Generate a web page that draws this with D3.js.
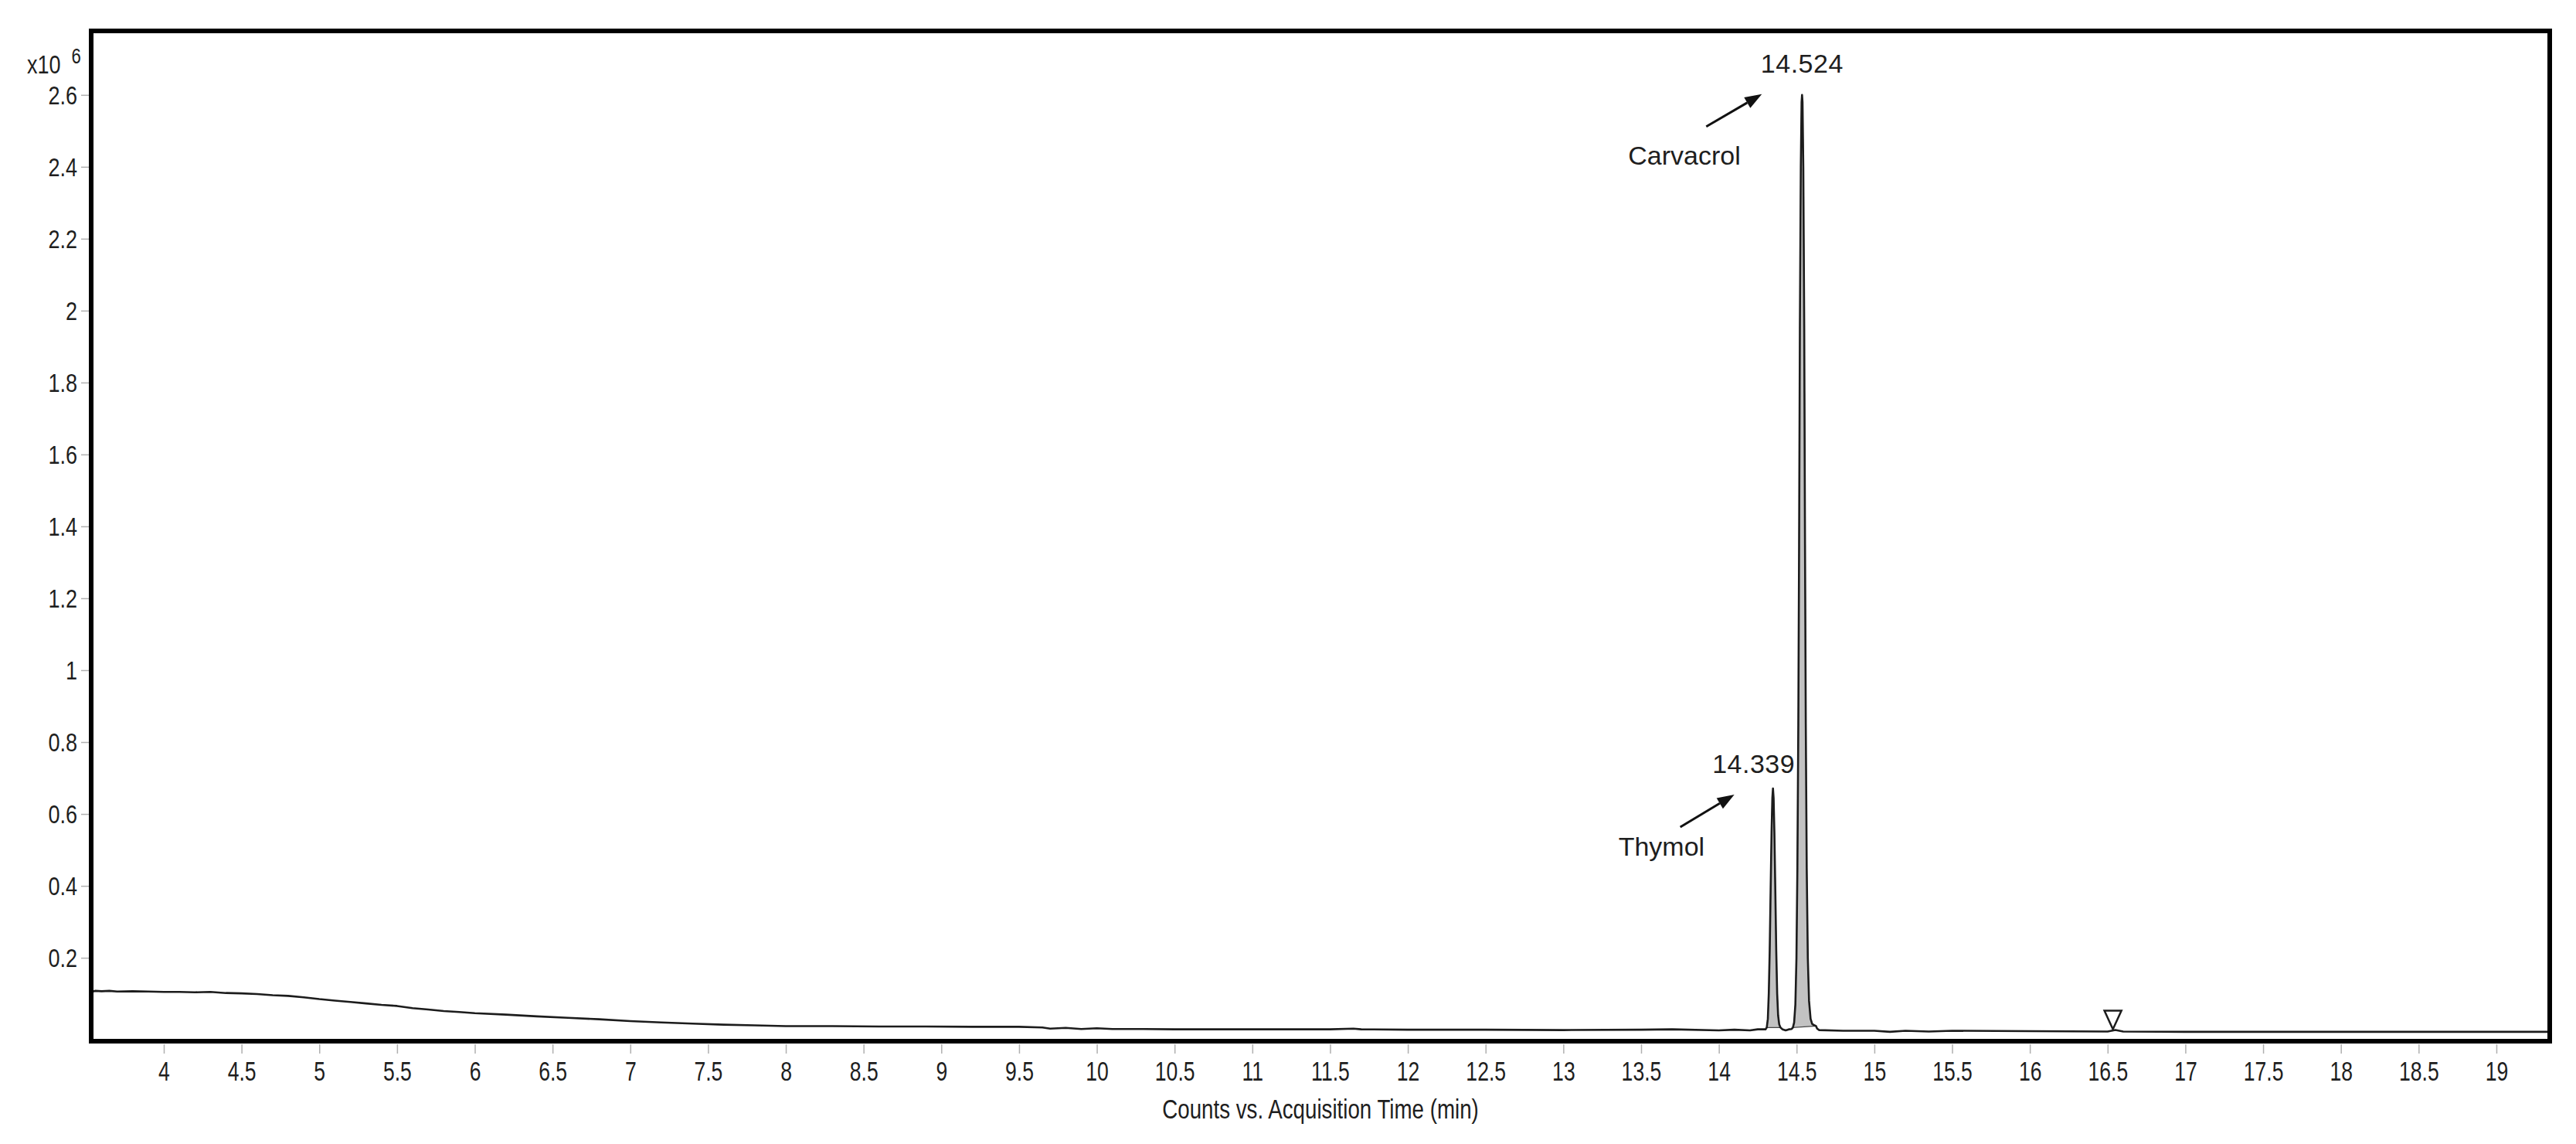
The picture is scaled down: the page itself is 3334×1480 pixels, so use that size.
<!DOCTYPE html>
<html>
<head>
<meta charset="utf-8">
<script src="https://cdn.jsdelivr.net/npm/d3@7"></script>
<style>
  html, body { margin: 0; padding: 0; background: #ffffff; }
  svg { display: block; }
  text { font-family: "Liberation Sans", Arial, sans-serif; fill: #1e1e1e; }
</style>
</head>
<body>
<svg id="chart" width="3334" height="1480"></svg>
<script>
// ---------------- data (counts in units of x10^6, time in minutes) ----------------
const tracePoints = [
  [3.533, 0.105], [3.56, 0.108], [3.6, 0.107], [3.65, 0.108], [3.7, 0.106], [3.8, 0.107],
  [3.9, 0.106], [4.0, 0.105], [4.1, 0.105], [4.2, 0.104], [4.3, 0.105], [4.4, 0.102],
  [4.5, 0.101], [4.6, 0.099], [4.7, 0.096], [4.8, 0.094], [4.9, 0.090], [5.0, 0.085],
  [5.1, 0.081], [5.2, 0.077], [5.3, 0.073], [5.4, 0.069], [5.5, 0.066], [5.6, 0.060],
  [5.7, 0.056], [5.8, 0.052], [5.9, 0.049], [6.0, 0.046], [6.2, 0.042], [6.4, 0.037],
  [6.6, 0.033], [6.8, 0.029], [7.0, 0.024], [7.2, 0.020], [7.4, 0.017], [7.6, 0.014],
  [7.8, 0.012], [8.0, 0.010], [8.3, 0.010], [8.6, 0.009], [8.9, 0.009], [9.2, 0.008],
  [9.5, 0.008], [9.65, 0.006], [9.7, 0.003], [9.8, 0.005], [9.9, 0.002], [10.0, 0.004],
  [10.1, 0.002], [10.3, 0.002], [10.5, 0.001], [11.0, 0.001], [11.5, 0.001], [11.65, 0.003],
  [11.7, 0.001], [12.0, 0.000], [12.5, 0.000], [13.0, -0.001], [13.5, 0.000], [13.7, 0.001],
  [14.0, -0.002], [14.1, 0.000], [14.2, -0.002], [14.25, 0.001], [14.3, 0.001],
  // Thymol
  [14.308, 0.006], [14.315, 0.03], [14.321, 0.10], [14.327, 0.22], [14.333, 0.39],
  [14.339, 0.55], [14.344, 0.645], [14.348, 0.671], [14.352, 0.645], [14.357, 0.55],
  [14.363, 0.39], [14.369, 0.22], [14.375, 0.10], [14.381, 0.04], [14.388, 0.015],
  [14.396, 0.006], [14.41, 0.001], [14.43, -0.002], [14.45, 0.001], [14.468, 0.002],
  // Carvacrol
  [14.476, 0.006], [14.484, 0.02], [14.492, 0.07], [14.499, 0.20], [14.505, 0.45],
  [14.511, 0.85], [14.516, 1.35], [14.521, 1.95], [14.527, 2.40], [14.532, 2.58],
  [14.535, 2.60], [14.538, 2.58], [14.543, 2.40], [14.549, 1.95], [14.554, 1.35],
  [14.559, 0.85], [14.565, 0.45], [14.572, 0.20], [14.58, 0.08], [14.59, 0.03],
  [14.6, 0.016], [14.615, 0.012], [14.625, 0.010], [14.632, 0.003], [14.645, -0.001],
  // tail
  [14.8, -0.003], [15.0, -0.003], [15.1, -0.006], [15.2, -0.003], [15.35, -0.005],
  [15.5, -0.003], [16.0, -0.004], [16.5, -0.005], [16.55, -0.001], [16.6, -0.005],
  [17.0, -0.006], [17.5, -0.006], [18.0, -0.006], [18.5, -0.006], [19.0, -0.006], [19.343, -0.006]
];

const peakNames = ["Thymol", "Carvacrol"];
const peakRTLabels = ["14.339", "14.524"];
const peakApexTime = [14.348, 14.535];
const peakApexCounts = [0.671, 2.60];
const peakStart = [14.305, 14.474];
const peakEnd = [14.40, 14.628];

const markerTimes = [16.534];
const markerCounts = [-0.005];

const xTickValues = [4, 4.5, 5, 5.5, 6, 6.5, 7, 7.5, 8, 8.5, 9, 9.5, 10, 10.5, 11, 11.5, 12, 12.5,
  13, 13.5, 14, 14.5, 15, 15.5, 16, 16.5, 17, 17.5, 18, 18.5, 19];
const yTickValues = [0.2, 0.4, 0.6, 0.8, 1, 1.2, 1.4, 1.6, 1.8, 2, 2.2, 2.4, 2.6];
const xDomain = [3.533, 19.343];
const yDomain = [-0.032, 2.778];
const xTitle = "Counts vs. Acquisition Time (min)";
const yUnitBase = "x10";
const yUnitExp = "6";

// ---------------- layout ----------------
const plot = { left: 118, top: 40, right: 3300, bottom: 1347 };
const svg = d3.select("#chart");

const x = d3.scaleLinear().domain(xDomain).range([plot.left, plot.right]);
const y = d3.scaleLinear().domain(yDomain).range([plot.bottom, plot.top]);

svg.append("defs").append("clipPath").attr("id", "plotclip")
  .append("rect")
  .attr("x", plot.left).attr("y", plot.top)
  .attr("width", plot.right - plot.left).attr("height", plot.bottom - plot.top);

// ---------------- axes ----------------
const fmt = d => String(+d.toFixed(1));

const xAxis = d3.axisBottom(x).tickValues(xTickValues).tickFormat(fmt)
  .tickSize(12).tickPadding(10).tickSizeOuter(0);
const gx = svg.append("g").attr("transform", `translate(0,${plot.bottom + 4})`).call(xAxis);
gx.select(".domain").remove();
gx.selectAll(".tick line").attr("stroke", "#b0b0b0").attr("stroke-width", 1.5);
gx.selectAll(".tick text")
  .attr("font-size", 35).attr("fill", "#1e1e1e")
  .attr("transform", "scale(0.76,1)").attr("dy", "0.72em");

const yAxis = d3.axisLeft(y).tickValues(yTickValues).tickFormat(fmt)
  .tickSize(10).tickPadding(0).tickSizeOuter(0);
const gy = svg.append("g").attr("transform", `translate(${plot.left - 3},0)`).call(yAxis);
gy.select(".domain").remove();
gy.selectAll(".tick line").attr("stroke", "#b0b0b0").attr("stroke-width", 1.5);
gy.selectAll(".tick text")
  .attr("font-size", 33).attr("fill", "#1e1e1e")
  .attr("x", 0).attr("dy", "0.36em")
  .attr("transform", "translate(-15,0) scale(0.82,1)");

// y unit label
const unit = svg.append("g").attr("transform", `translate(35,${y(2.6) - 28})`);
unit.append("text").attr("font-size", 33).attr("transform", "scale(0.82,1)").text(yUnitBase);
unit.append("text").attr("font-size", 27).attr("x", 70).attr("y", -13).attr("transform", "scale(0.82,1)").text(yUnitExp);

// x title
svg.append("text")
  .attr("transform", `translate(${(plot.left + plot.right) / 2},1447) scale(0.77,1)`)
  .attr("text-anchor", "middle").attr("font-size", 36)
  .text(xTitle);

// ---------------- peaks fill ----------------
const gPlot = svg.append("g").attr("clip-path", "url(#plotclip)");

peakNames.forEach((name, i) => {
  const pts = tracePoints.filter(p => p[0] >= peakStart[i] && p[0] <= peakEnd[i]);
  const first = pts[0], last = pts[pts.length - 1];
  const area = d3.line().x(p => x(p[0])).y(p => y(p[1]));
  gPlot.append("path")
    .attr("d", area(pts.concat([last, first])) + "Z")
    .attr("fill", "#c2c2c2").attr("stroke", "#444").attr("stroke-width", 1.2);
});

// ---------------- trace ----------------
const line = d3.line().x(p => x(p[0])).y(p => y(p[1]));
gPlot.append("path")
  .datum(tracePoints)
  .attr("d", line)
  .attr("fill", "none").attr("stroke", "#1c1c1c").attr("stroke-width", 2.6)
  .attr("stroke-linejoin", "round");

// marker triangle
markerTimes.forEach((t, i) => {
  const cx = x(t), cy = y(markerCounts[i]);
  gPlot.append("path")
    .attr("d", `M${cx - 11},${cy - 27} L${cx + 11},${cy - 27} L${cx},${cy - 3} Z`)
    .attr("fill", "#ffffff").attr("stroke", "#1c1c1c").attr("stroke-width", 2.5);
});

// ---------------- annotations ----------------
const annoOffsets = [
  { num: [-25, -20], tip: [-50, 8], tail: [-120, 50], name: [-200, 87] },
  { num: [0, -29], tip: [-52, -1], tail: [-124, 41], name: [-225, 90] }
];
peakNames.forEach((name, i) => {
  const ax = x(peakApexTime[i]), ay = y(peakApexCounts[i]);
  const o = annoOffsets[i];
  svg.append("text").attr("x", ax + o.num[0]).attr("y", ay + o.num[1])
    .attr("text-anchor", "middle").attr("font-size", 34).attr("letter-spacing", 0.5)
    .text(peakRTLabels[i]);
  svg.append("text").attr("x", ax + o.name[0]).attr("y", ay + o.name[1])
    .attr("font-size", 34).text(name);
  const tx = ax + o.tip[0], ty = ay + o.tip[1];
  const sx = ax + o.tail[0], sy = ay + o.tail[1];
  const ang = Math.atan2(ty - sy, tx - sx);
  const L = 22, W = 8;
  const bx = tx - L * Math.cos(ang), by = ty - L * Math.sin(ang);
  svg.append("line").attr("x1", sx).attr("y1", sy).attr("x2", bx).attr("y2", by)
    .attr("stroke", "#111").attr("stroke-width", 3);
  svg.append("path")
    .attr("d", `M${tx},${ty} L${bx - W * Math.sin(ang)},${by + W * Math.cos(ang)} L${bx + W * Math.sin(ang)},${by - W * Math.cos(ang)} Z`)
    .attr("fill", "#111");
});

// ---------------- frame ----------------
svg.append("rect")
  .attr("x", plot.left).attr("y", plot.top)
  .attr("width", plot.right - plot.left).attr("height", plot.bottom - plot.top)
  .attr("fill", "none").attr("stroke", "#000").attr("stroke-width", 6);
</script>
</body>
</html>
